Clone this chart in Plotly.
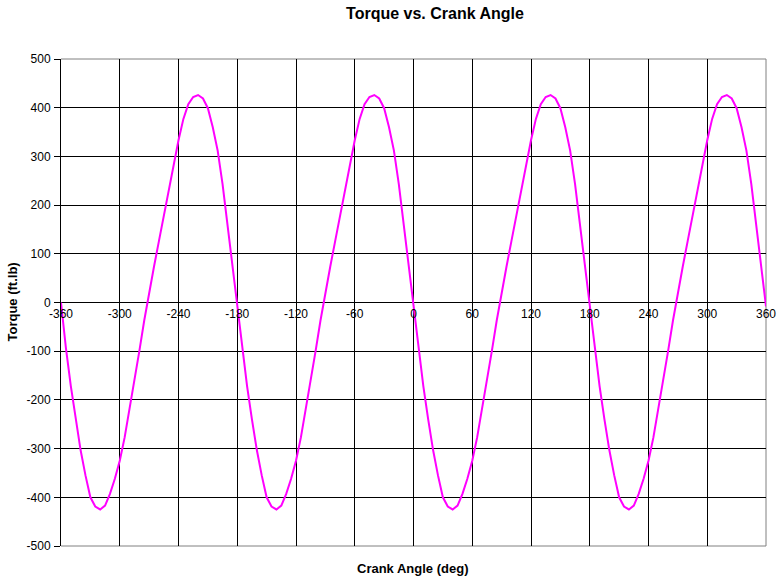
import plotly.graph_objects as go

# Crank angle (deg), every 5 degrees from -360 to 360
crank_angle = list(range(-360, 365, 5))

# Torque (ft.lb)
torque = [
    0, -93, -171, -240, -303, -355, -400, -419, -425, -417, -393, -362,
    -325, -277, -220, -161, -100, -37, 21, 74, 126, 179, 231, 284,
    333, 377, 407, 422, 426, 419, 399, 360, 312, 243, 162, 79,
    0, -93, -171, -240, -303, -355, -400, -419, -425, -417, -393, -362,
    -325, -277, -220, -161, -100, -37, 21, 74, 126, 179, 231, 284,
    333, 377, 407, 422, 426, 419, 399, 360, 312, 243, 162, 79,
    0, -93, -171, -240, -303, -355, -400, -419, -425, -417, -393, -362,
    -325, -277, -220, -161, -100, -37, 21, 74, 126, 179, 231, 284,
    333, 377, 407, 422, 426, 419, 399, 360, 312, 243, 162, 79,
    0, -93, -171, -240, -303, -355, -400, -419, -425, -417, -393, -362,
    -325, -277, -220, -161, -100, -37, 21, 74, 126, 179, 231, 284,
    333, 377, 407, 422, 426, 419, 399, 360, 312, 243, 162, 79,
    -8,
]

x_tick_vals = [-360, -300, -240, -180, -120, -60, 0, 60, 120, 180, 240, 300, 360]
x_tick_text = ["-360", "-300", "-240", "-180", "-120", "-60", "0", "60", "120", "180", "240", "300", "360"]
y_tick_vals = [-500, -400, -300, -200, -100, 0, 100, 200, 300, 400, 500]
y_tick_text = ["-500", "-400", "-300", "-200", "-100", "0", "100", "200", "300", "400", "500"]

FONT = "Liberation Sans, Arial, sans-serif"

fig = go.Figure()
fig.add_trace(go.Scatter(
    x=crank_angle, y=torque, mode="lines",
    line=dict(color="#FF00FF", width=2),
    hoverinfo="x+y",
))

fig.update_layout(
    width=783, height=580,
    margin=dict(l=61, r=17, t=59, b=34, autoexpand=False),
    paper_bgcolor="white", plot_bgcolor="white",
    showlegend=False,
    font=dict(family=FONT, size=12, color="black"),
    title=dict(
        text="<b>Torque vs. Crank Angle</b>",
        font=dict(family=FONT, size=16, color="black"),
        xref="container", x=435 / 783, xanchor="center",
        yref="container", y=1 - 13 / 580, yanchor="middle",
    ),
    xaxis=dict(
        range=[-360, 360], tickmode="array", tickvals=x_tick_vals, ticktext=x_tick_text,
        showgrid=True, gridcolor="black", gridwidth=1,
        zeroline=False, showline=False,
        ticks="", anchor="free", position=0.5,
        ticklabelstandoff=2,
        tickfont=dict(family=FONT, size=12, color="black"),
        fixedrange=True,
    ),
    yaxis=dict(
        range=[-500, 500], tickmode="array", tickvals=y_tick_vals, ticktext=y_tick_text,
        showgrid=True, gridcolor="black", gridwidth=1,
        zeroline=True, zerolinecolor="black", zerolinewidth=1,
        showline=True, linecolor="black", linewidth=1,
        ticks="outside", ticklen=6, tickcolor="black", tickwidth=1,
        ticklabelstandoff=1,
        tickfont=dict(family=FONT, size=12, color="black"),
        fixedrange=True,
    ),
    shapes=[
        dict(type="line", xref="paper", yref="paper", x0=0, x1=1, y0=1, y1=1,
             line=dict(color="#808080", width=1), layer="between"),
        dict(type="line", xref="paper", yref="paper", x0=1, x1=1, y0=0, y1=1,
             line=dict(color="#808080", width=1), layer="between"),
        dict(type="line", xref="paper", yref="paper", x0=0, x1=1, y0=0, y1=0,
             line=dict(color="#808080", width=1), layer="between"),
    ],
    annotations=[
        dict(text="<b>Crank Angle (deg)</b>", xref="paper", yref="paper",
             x=(412 - 61) / 705, y=(546 - 568) / 487, xanchor="center", yanchor="middle",
             showarrow=False, font=dict(family=FONT, size=13, color="black")),
        dict(text="<b>Torque (ft.lb)</b>", xref="paper", yref="paper",
             x=(12 - 61) / 705, y=0.5, xanchor="center", yanchor="middle",
             textangle=-90, showarrow=False, font=dict(family=FONT, size=13, color="black")),
    ],
)

fig.write_html(
    "out.html",
    config={"displayModeBar": False},
    post_script="document.body.style.margin='0';document.body.style.overflow='hidden';",
)
